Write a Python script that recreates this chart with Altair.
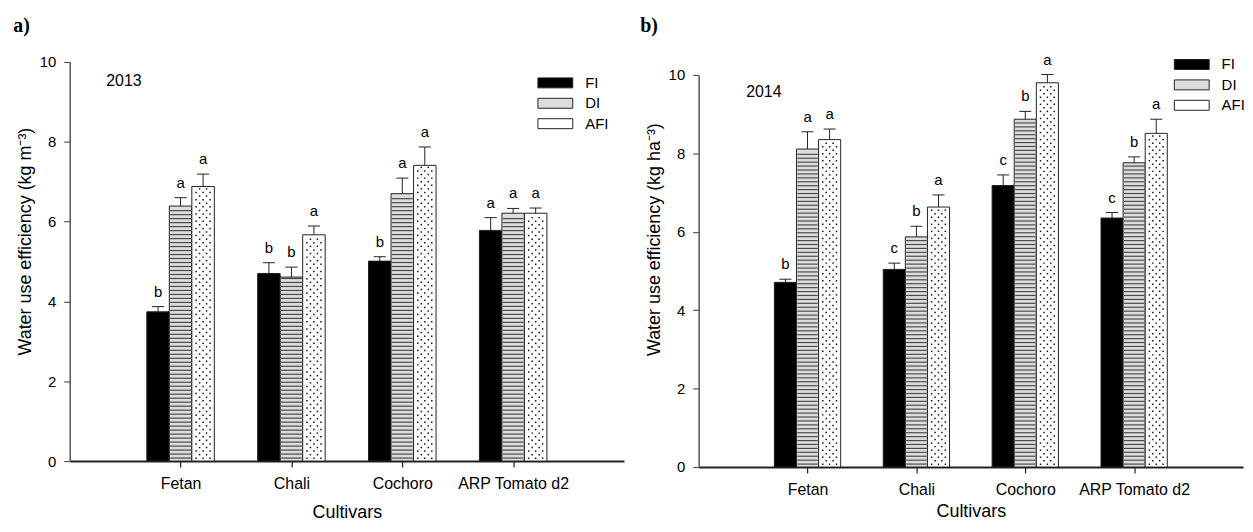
import altair as alt
import numpy as np
import pandas as pd

# ---------------- data ----------------
cultivars = ["Fetan", "Chali", "Cochoro", "ARP Tomato d2"]
treatments = ["FI", "DI", "AFI"]
years = ["2013", "2014"]

# 2013 (panel a) – means and standard errors, kg m-3
fi_2013 = [3.74, 4.70, 5.01, 5.78]
di_2013 = [6.39, 4.61, 6.70, 6.21]
afi_2013 = [6.88, 5.67, 7.41, 6.21]
fi_2013_se = [0.13, 0.27, 0.11, 0.32]
di_2013_se = [0.21, 0.25, 0.39, 0.12]
afi_2013_se = [0.31, 0.22, 0.46, 0.13]
fi_2013_let = ["b", "b", "b", "a"]
di_2013_let = ["a", "b", "a", "a"]
afi_2013_let = ["a", "a", "a", "a"]

# 2014 (panel b)
fi_2014 = [4.71, 5.04, 7.18, 6.35]
di_2014 = [8.11, 5.87, 8.87, 7.76]
afi_2014 = [8.35, 6.63, 9.80, 8.51]
fi_2014_se = [0.08, 0.16, 0.27, 0.14]
di_2014_se = [0.44, 0.27, 0.20, 0.15]
afi_2014_se = [0.27, 0.31, 0.21, 0.36]
fi_2014_let = ["b", "c", "c", "c"]
di_2014_let = ["a", "b", "b", "b"]
afi_2014_let = ["a", "a", "a", "a"]

# ---------------- layout constants ----------------
BAR_W = 0.203   # bar width in category units
CAP_W = 0.11    # error-bar cap width in category units
FONT = "Liberation Sans"
FILLS = ["#000000", "#dcdcdc", "#ffffff"]


def frames(vals, ses, lets):
    rows = []
    for j, t in enumerate(treatments):
        for i, c in enumerate(cultivars):
            center = (i + 1) + (j - 1) * BAR_W
            rows.append(dict(cultivar=c, treatment=t, value=vals[j][i], se=ses[j][i],
                             top=vals[j][i] + ses[j][i], letter=lets[j][i],
                             center=center, x0=center - BAR_W / 2, x1=center + BAR_W / 2,
                             c0=center - CAP_W / 2, c1=center + CAP_W / 2))
    bars = pd.DataFrame(rows)

    # texture: horizontal lines for DI, dots for AFI (decoration inside bars)
    srows, drows = [], []
    for r in rows:
        if r["treatment"] == "DI":
            for k in np.arange(0.06, r["value"] - 0.05, 0.1):
                srows.append(dict(x0=r["x0"] + 0.008, x1=r["x1"] - 0.008, y=k, y2=k + 0.03))
        if r["treatment"] == "AFI":
            n = 0
            for k in np.arange(0.07, r["value"] - 0.04, 0.09):
                offs = [-0.063, 0.0, 0.063] if n % 2 == 0 else [-0.0315, 0.0315]
                for o in offs:
                    drows.append(dict(x=r["center"] + o, y=k))
                n += 1
    return bars, pd.DataFrame(srows), pd.DataFrame(drows)


def panel(vals, ses, lets, year, ytitle, width, height, yrange, ty, xtp,
          lx, ly, label, toff, tdx, yx, yy):
    bars, stripes, dots = frames(vals, ses, lets)
    label_expr = "[''," + ",".join("'%s'" % c for c in cultivars) + "][datum.value]"
    xsc = alt.Scale(domain=[0, 5], nice=False, zero=False)
    ysc = alt.Scale(domain=[0, 10], nice=False, range=yrange)
    xax = alt.Axis(values=[1, 2, 3, 4], labelExpr=label_expr, title="Cultivars",
                   grid=False, tickSize=6, labelPadding=9, titlePadding=xtp,
                   domainColor="#222", domainWidth=2, tickColor="#222", tickWidth=1.2,
                   labelFontSize=16, titleFontSize=18)
    yax = alt.Axis(values=[0, 2, 4, 6, 8, 10], title=ytitle, grid=False, tickSize=6,
                   labelPadding=8, titlePadding=5, titleY=ty, domainColor="#555",
                   domainWidth=1.5, tickColor="#555", tickWidth=1.2, labelFontSize=15,
                   titleFontSize=18)

    base_bars = alt.Chart(bars).mark_bar(stroke="#222", strokeWidth=1).encode(
        x=alt.X("x0:Q", scale=xsc, axis=xax),
        x2="x1:Q",
        y=alt.Y("value:Q", scale=ysc, axis=yax),
        y2=alt.datum(0),
        fill=alt.Fill("treatment:N",
                      scale=alt.Scale(domain=treatments, range=FILLS),
                      legend=alt.Legend(title=None, orient="none", legendX=lx, legendY=ly,
                                        symbolType="M-3.5,-1H3.5V1H-3.5Z", symbolSize=100,
                                        symbolStrokeColor="#222", symbolStrokeWidth=1,
                                        symbolOpacity=1, labelOffset=22.5, rowPadding=4.5,
                                        labelFontSize=15, labelFont=FONT, labelColor="black")),
    )
    stripe_layer = alt.Chart(stripes).mark_bar(color="#4a4a4a").encode(
        x="x0:Q", x2="x1:Q", y="y:Q", y2="y2:Q")
    dot_layer = alt.Chart(dots).mark_square(size=2.2, color="#111", opacity=1).encode(
        x="x:Q", y="y:Q")
    err = alt.Chart(bars).mark_rule(color="#222", strokeWidth=1).encode(
        x="center:Q", y="value:Q", y2="top:Q")
    caps = alt.Chart(bars).mark_rule(color="#222", strokeWidth=1).encode(
        x="c0:Q", x2="c1:Q", y="top:Q")
    letters = alt.Chart(bars).mark_text(dy=-10, baseline="alphabetic", fontSize=15,
                                        font=FONT, color="black").encode(
        x="center:Q", y="top:Q", text="letter:N")
    year_txt = alt.Chart(pd.DataFrame({"year": [year]})).mark_text(
        fontSize=16, font=FONT, color="black", baseline="middle").encode(
        x=alt.value(yx), y=alt.value(yy), text="year:N")

    return alt.layer(base_bars, stripe_layer, dot_layer, err, caps, letters, year_txt).properties(
        width=width, height=height,
        title=alt.TitleParams(label, anchor="start", font="Liberation Serif", fontSize=20,
                              fontWeight="bold", color="black", offset=toff, dx=tdx),
    )


left = panel([fi_2013, di_2013, afi_2013], [fi_2013_se, di_2013_se, afi_2013_se],
             [fi_2013_let, di_2013_let, afi_2013_let], years[0],
             "Water use efficiency (kg m\u207b\u00b3)", 557, 401, [401, 0], 180, 12,
             480.5, 13.5, "a)", 19, -3, 54.5, 19)
right = panel([fi_2014, di_2014, afi_2014], [fi_2014_se, di_2014_se, afi_2014_se],
              [fi_2014_let, di_2014_let, afi_2014_let], years[1],
              "Water use efficiency (kg ha\u207b\u00b3)", 547, 407, [407, 13], 178, 5,
              488, -5, "b)", 17, -5, 65.5, 30)

chart = alt.hconcat(left, right, spacing=16).resolve_scale(
    fill="independent", x="independent", y="independent"
).resolve_legend(fill="independent").configure_view(stroke=None).configure_axis(
    labelFont=FONT, titleFont=FONT, titleFontWeight="normal", labelColor="black",
    titleColor="black"
).properties(padding={"left": 5, "top": 6, "right": 0, "bottom": 0})

chart.save("out.html", embed_options={"renderer": "svg", "actions": False})
